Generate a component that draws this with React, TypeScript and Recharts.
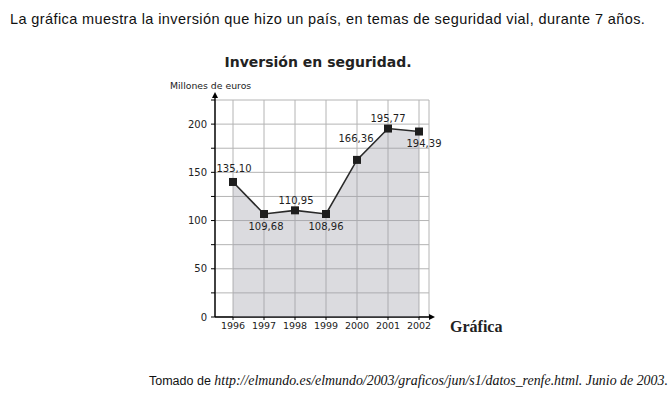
import { Area, CartesianGrid, ComposedChart, LabelList, Line, XAxis, YAxis, usePlotArea } from 'recharts'

const years = ['1996', '1997', '1998', '1999', '2000', '2001', '2002']
// plotted heights as drawn in the picture (millones de euros)
const inversion = [140, 106.8, 110.6, 106.8, 162.9, 195.4, 192.3]
// value labels printed next to each point
const etiquetas = ['135,10', '109,68', '110,95', '108,96', '166,36', '195,77', '194,39']
const yTicks = [0, 25, 50, 75, 100, 125, 150, 175, 200, 225]

const data = years.map((anio, i) => ({ anio, inversion: inversion[i], etiqueta: etiquetas[i] }))

// label placement around each marker
const posEtiqueta = [
  { dx: 1, dy: -13 },
  { dx: 2, dy: 13 },
  { dx: 1, dy: -10 },
  { dx: 0, dy: 13 },
  { dx: -1, dy: -21 },
  { dx: 0, dy: -10 },
  { dx: 5, dy: 12 },
]

const sans = '"DejaVu Sans", Verdana, sans-serif'
const texto = '"Liberation Sans", Arial, sans-serif'

function Cuadro(props: any) {
  const { cx, cy } = props
  if (cx == null || cy == null) return null
  return <rect x={cx - 4} y={cy - 4} width={8} height={8} fill="#1e1e1e" />
}

function Etiqueta(props: any) {
  const { x, y, index, value } = props
  const p = posEtiqueta[index] ?? { dx: 0, dy: -10 }
  return (
    <text x={x + p.dx} y={y + p.dy} textAnchor="middle" dominantBaseline="central" fontSize={10} fontFamily={sans} fill="#1e1e1e">
      {value}
    </text>
  )
}

function Flechas() {
  const area = usePlotArea()
  if (!area) return null
  const { x, y, width, height } = area
  const yb = y + height
  const xr = x + width
  return (
    <g>
      <line x1={x} y1={yb} x2={x} y2={y - 3} stroke="#000" strokeWidth={1.4} />
      <path d={`M${x - 3},${y - 2} L${x},${y - 8} L${x + 3},${y - 2} Z`} fill="#000" />
      <line x1={x} y1={yb} x2={xr + 1} y2={yb} stroke="#000" strokeWidth={1.4} />
      <path d={`M${xr},${yb - 3} L${xr + 6},${yb} L${xr},${yb + 3} Z`} fill="#000" />
    </g>
  )
}

export default function App() {
  return (
    <div style={{ position: 'absolute', left: 0, top: 0, width: 668, height: 399, background: '#fff', overflow: 'hidden' }}>
      <div style={{ position: 'absolute', left: 10, top: 11, fontFamily: texto, fontSize: 14.5, letterSpacing: 0.4, color: '#111', whiteSpace: 'nowrap' }}>
        La gráfica muestra la inversión que hizo un país, en temas de seguridad vial, durante 7 años.
      </div>
      <div style={{ position: 'absolute', left: 0, width: 636, top: 54, textAlign: 'center', fontFamily: sans, fontWeight: 'bold', fontSize: 14, color: '#222', whiteSpace: 'nowrap' }}>
        Inversión en seguridad.
      </div>
      <div style={{ position: 'absolute', left: 170, top: 80, fontFamily: sans, fontSize: 9.3, color: '#222', whiteSpace: 'nowrap' }}>
        Millones de euros
      </div>
      <div style={{ position: 'absolute', left: 450, top: 318, fontFamily: '"Liberation Serif", serif', fontWeight: 'bold', fontSize: 16, color: '#222' }}>
        Gráfica
      </div>
      <div style={{ position: 'absolute', left: 149, top: 371, color: '#111', whiteSpace: 'nowrap' }}>
        <span style={{ fontFamily: texto, fontSize: 12.5 }}>Tomado de </span>
        <span style={{ fontFamily: '"Liberation Serif", serif', fontStyle: 'italic', fontSize: 13.9 }}>
          http://elmundo.es/elmundo/2003/graficos/jun/s1/datos_renfe.html. Junio de 2003.
        </span>
      </div>
      <div style={{ position: 'absolute', left: 0, top: 0 }}>
        <ComposedChart width={668} height={399} data={data} margin={{ top: 100, right: 239, bottom: 52, left: 175 }}>
          <CartesianGrid stroke="#b4b4b4" strokeWidth={1} />
          <XAxis
            dataKey="anio"
            padding={{ left: 18, right: 10 }}
            axisLine={false}
            tickLine={{ stroke: '#000' }}
            tickSize={3}
            tickMargin={2}
            height={30}
            interval={0}
            tick={{ fontSize: 9.5, fontFamily: sans, fill: '#222' }}
          />
          <YAxis
            domain={[0, 225]}
            ticks={yTicks}
            width={40}
            axisLine={false}
            tickLine={{ stroke: '#000' }}
            tickSize={4}
            tickMargin={4}
            interval={0}
            tickFormatter={(v: number) => (v % 50 === 0 && v <= 200 ? String(v) : '')}
            tick={{ fontSize: 10, fontFamily: sans, fill: '#222' }}
          />
          <Area dataKey="inversion" stroke="none" fill="#9c9ca6" fillOpacity={0.36} isAnimationActive={false} />
          <Line dataKey="inversion" stroke="#2a2a2a" strokeWidth={1.6} dot={<Cuadro />} activeDot={false} isAnimationActive={false}>
            <LabelList dataKey="etiqueta" content={<Etiqueta />} />
          </Line>
          <Flechas />
        </ComposedChart>
      </div>
    </div>
  )
}
